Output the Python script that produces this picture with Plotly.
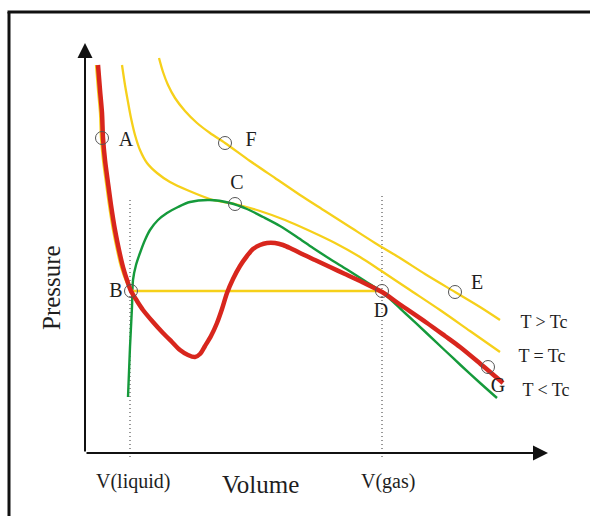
import plotly.graph_objects as go

# Data units: volume (V) and pressure (P), arbitrary schematic units
# T < Tc van der Waals isotherm
red_v = [13, 15, 17, 18, 20, 23, 26, 30, 34, 38, 42, 46, 52, 58, 68, 78, 87, 95, 103, 110, 115, 120,
         126, 132, 137, 142, 148, 155, 162, 168, 175, 182, 190, 198, 205, 215, 230, 245, 260, 278,
         297, 315, 342, 360, 375, 395, 418]
red_p = [388, 363, 340, 315, 293, 270, 248, 223, 203, 186, 173, 162, 152, 143, 131, 120, 111, 103, 98,
         96, 99, 107, 117, 130, 144, 160, 174, 187, 197, 204, 208, 210, 210, 208, 205, 200, 193, 186,
         179, 170.5, 161, 148.5, 130, 117, 106, 89.5, 70]

# T < Tc real isotherm (Maxwell construction)
maxw_v = [11, 13, 15, 16, 18, 21, 24, 28, 32, 36, 41, 46, 297, 315, 342, 360, 375, 395, 404]
maxw_p = [388, 363, 340, 315, 293, 270, 248, 223, 203, 186, 172, 162, 162, 148.5, 130, 117, 106, 89.5, 82]

# T > Tc isotherm
hot_v = [74, 78, 83, 90, 100, 112, 125, 140, 165, 190, 215, 240, 265, 290, 315, 340, 370, 395, 415]
hot_p = [395, 381, 368, 355, 342, 330, 320, 310, 292, 275, 258, 242, 226, 210, 195, 179, 161, 146, 133]

# T = Tc isotherm
crit_v = [37, 40, 43, 46, 50, 55, 62, 72, 85, 102, 128, 150, 175, 200, 225, 250, 275, 295, 325, 355, 385, 415]
crit_p = [388, 368, 351, 335, 318, 303, 290, 280, 271, 263, 253, 249, 242, 233, 222, 210, 196, 183, 163, 143, 122, 101]

# coexistence / spinodal dome
dome_v = [43, 45, 47, 48, 51, 55, 60, 65, 73, 82, 93, 105, 125, 145, 162, 178, 195, 212, 228, 245,
          262, 280, 297, 320, 342, 360, 376, 394, 412]
dome_p = [56, 106, 146, 173, 188, 200, 213, 223, 233, 240, 246, 251, 253, 250, 244, 236, 227, 216,
          205, 194, 183.5, 172, 161, 140, 119.5, 102.5, 87.5, 71, 55]

# marked states
pt_names = ["A", "F", "C", "B", "D", "E", "G"]
pt_v = [17, 140, 150, 46, 297, 370, 403]
pt_p = [315, 310, 249, 162, 162, 161, 86]
lab_v = [41, 166, 152, 31, 296, 392, 413]
lab_p = [312, 312, 269, 161, 141, 169, 66]

curve_labels = ["T > Tc", "T = Tc", "T < Tc"]
curve_lab_v = [459, 457, 461]
curve_lab_p = [130, 96, 62]

v_liquid, v_gas = 45, 297
dot_top = [253, 257]

YELLOW = "#f6d01a"
RED = "#d8261d"
GREEN = "#159a3b"
FONT = "Liberation Serif"
TXT = "#1e1e1e"

fig = go.Figure()

# dotted verticals
for vx, top in zip([v_liquid, v_gas], dot_top):
    fig.add_trace(go.Scatter(x=[vx, vx], y=[top, -6], mode="lines",
                             line=dict(color="#333333", width=1, dash="1px,3px"), hoverinfo="skip"))

fig.add_trace(go.Scatter(x=hot_v, y=hot_p, mode="lines", line=dict(color=YELLOW, width=2.3, shape="spline", smoothing=0.8)))
fig.add_trace(go.Scatter(x=crit_v, y=crit_p, mode="lines", line=dict(color=YELLOW, width=2.3, shape="spline", smoothing=0.8)))
fig.add_trace(go.Scatter(x=dome_v, y=dome_p, mode="lines", line=dict(color=GREEN, width=2.4, shape="spline", smoothing=0.8)))
fig.add_trace(go.Scatter(x=maxw_v[:12], y=maxw_p[:12], mode="lines", line=dict(color=YELLOW, width=2.3, shape="spline", smoothing=0.8)))
fig.add_trace(go.Scatter(x=maxw_v[11:13], y=maxw_p[11:13], mode="lines", line=dict(color=YELLOW, width=2.3)))
fig.add_trace(go.Scatter(x=maxw_v[12:], y=maxw_p[12:], mode="lines", line=dict(color=YELLOW, width=2.3, shape="spline", smoothing=0.8)))
fig.add_trace(go.Scatter(x=red_v, y=red_p, mode="lines", line=dict(color=RED, width=4.5, shape="spline", smoothing=0.8)))

fig.add_trace(go.Scatter(x=pt_v, y=pt_p, mode="markers",
                         marker=dict(symbol="circle-open", size=13, color="#555555", line=dict(width=1))))

fig.add_trace(go.Scatter(x=lab_v, y=lab_p, mode="text", text=pt_names,
                         textfont=dict(family=FONT, size=20, color=TXT)))
fig.add_trace(go.Scatter(x=curve_lab_v, y=curve_lab_p, mode="text", text=curve_labels,
                         textfont=dict(family=FONT, size=18, color=TXT)))

# axes as arrows
fig.add_annotation(x=0, y=410, ax=0, ay=0, xref="x", yref="y", axref="x", ayref="y",
                   showarrow=True, arrowhead=2, arrowsize=1.5, arrowwidth=2, arrowcolor="#111111", text="")
fig.add_annotation(x=463, y=0, ax=0, ay=0, xref="x", yref="y", axref="x", ayref="y",
                   showarrow=True, arrowhead=2, arrowsize=1.5, arrowwidth=2, arrowcolor="#111111", text="")

fig.add_annotation(x=48, y=-28, text="V(liquid)", showarrow=False, font=dict(family=FONT, size=20, color=TXT))
fig.add_annotation(x=v_gas + 6, y=-28, text="V(gas)", showarrow=False, font=dict(family=FONT, size=20, color=TXT))
fig.add_annotation(x=175, y=-31, text="Volume", showarrow=False, font=dict(family=FONT, size=25, color=TXT))
fig.add_annotation(x=-34, y=165, text="Pressure", textangle=-90, showarrow=False,
                   font=dict(family=FONT, size=25, color=TXT))

# outer frame
fig.add_shape(type="line", x0=-76, x1=-76, y0=-70, y1=441, line=dict(color="#111111", width=3))
fig.add_shape(type="line", x0=-77.5, x1=520, y0=441, y1=441, line=dict(color="#111111", width=3))

fig.update_layout(width=590, height=516, margin=dict(l=0, r=0, t=0, b=0),
                  paper_bgcolor="white", plot_bgcolor="white", showlegend=False,
                  xaxis=dict(range=[-85, 505], visible=False, fixedrange=True),
                  yaxis=dict(range=[-63, 453], visible=False, fixedrange=True))

fig.write_html("out.html")
